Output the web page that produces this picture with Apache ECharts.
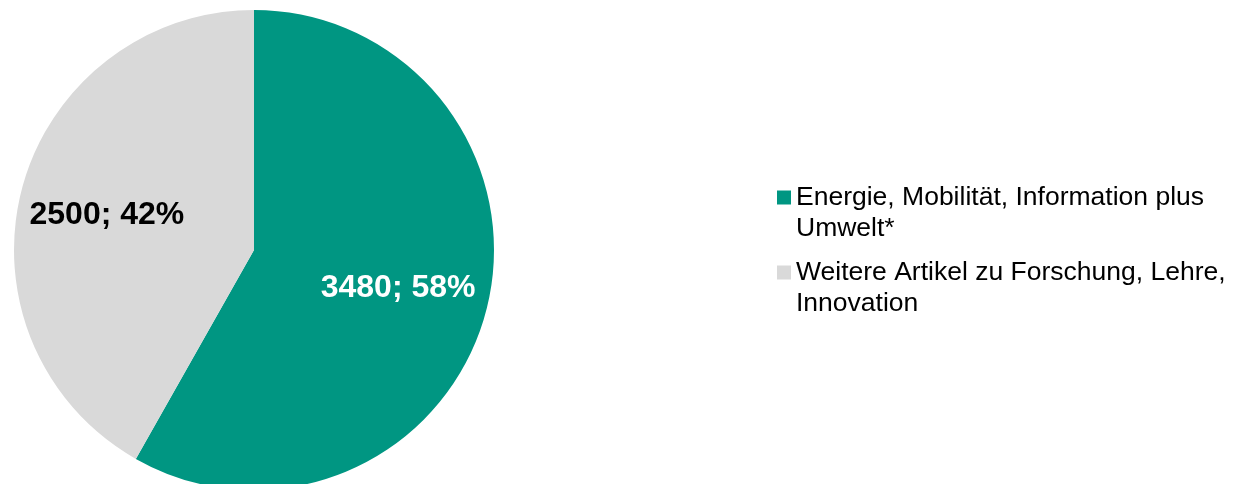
<!DOCTYPE html>
<html>
<head>
<meta charset="utf-8">
<script src="https://cdn.jsdelivr.net/npm/echarts@6/dist/echarts.min.js"></script>
<style>
html,body{margin:0;padding:0;background:#fff;}
#chart{width:1235px;height:484px;}
</style>
</head>
<body>
<div id="chart"></div>
<script>
const categories = ['Energie, Mobilität, Information plus Umwelt*', 'Weitere Artikel zu Forschung, Lehre, Innovation'];
const legendLabels = ['Energie, Mobilität, Information plus\nUmwelt*', 'Weitere Artikel zu Forschung, Lehre,\nInnovation'];
const values = [3480, 2500];
const colors = ['#009682', '#d9d9d9'];
const labelColors = ['#ffffff', '#000000'];

const FONT = '"Liberation Sans", Arial, sans-serif';
const labelOffsets = [[0, 0], [-3, 3]];
const legendTops = [151, 226];

const pieData = categories.map((n, i) => ({ name: n, value: values[i], itemStyle: { color: colors[i] } }));
const labelData = categories.map((n, i) => ({ name: n, value: values[i], label: { color: labelColors[i], offset: labelOffsets[i] } }));

const legends = categories.map((n, i) => ({
  orient: 'vertical',
  left: 777,
  top: legendTops[i],
  padding: 0,
  itemWidth: 14,
  itemHeight: 14,
  icon: 'rect',
  selectedMode: false,
  data: [n],
  // leading blank line keeps the marker level with the first text line
  formatter: (name) => ' \n' + legendLabels[categories.indexOf(name)],
  textStyle: { fontFamily: FONT, fontSize: 26.5, color: '#000', lineHeight: 31 }
}));

const chart = echarts.init(document.getElementById('chart'), null, { renderer: 'canvas' });
chart.setOption({
  animation: false,
  legend: legends,
  series: [
    {
      type: 'pie',
      center: [254, 250],
      radius: [0, 240],
      startAngle: 90,
      clockwise: true,
      silent: true,
      label: { show: false },
      labelLine: { show: false },
      emphasis: { disabled: true },
      itemStyle: { borderWidth: 0 },
      data: pieData
    },
    {
      type: 'pie',
      center: [254, 250],
      radius: [52, 240],
      startAngle: 90,
      clockwise: true,
      silent: true,
      percentPrecision: 0,
      itemStyle: { color: 'rgba(0,0,0,0)', borderWidth: 0 },
      emphasis: { disabled: true },
      labelLine: { show: false },
      label: {
        show: true,
        position: 'inside',
        formatter: '{c}; {d}%',
        fontFamily: FONT,
        fontSize: 32,
        fontWeight: 'bold'
      },
      data: labelData
    }
  ]
});
</script>
</body>
</html>
